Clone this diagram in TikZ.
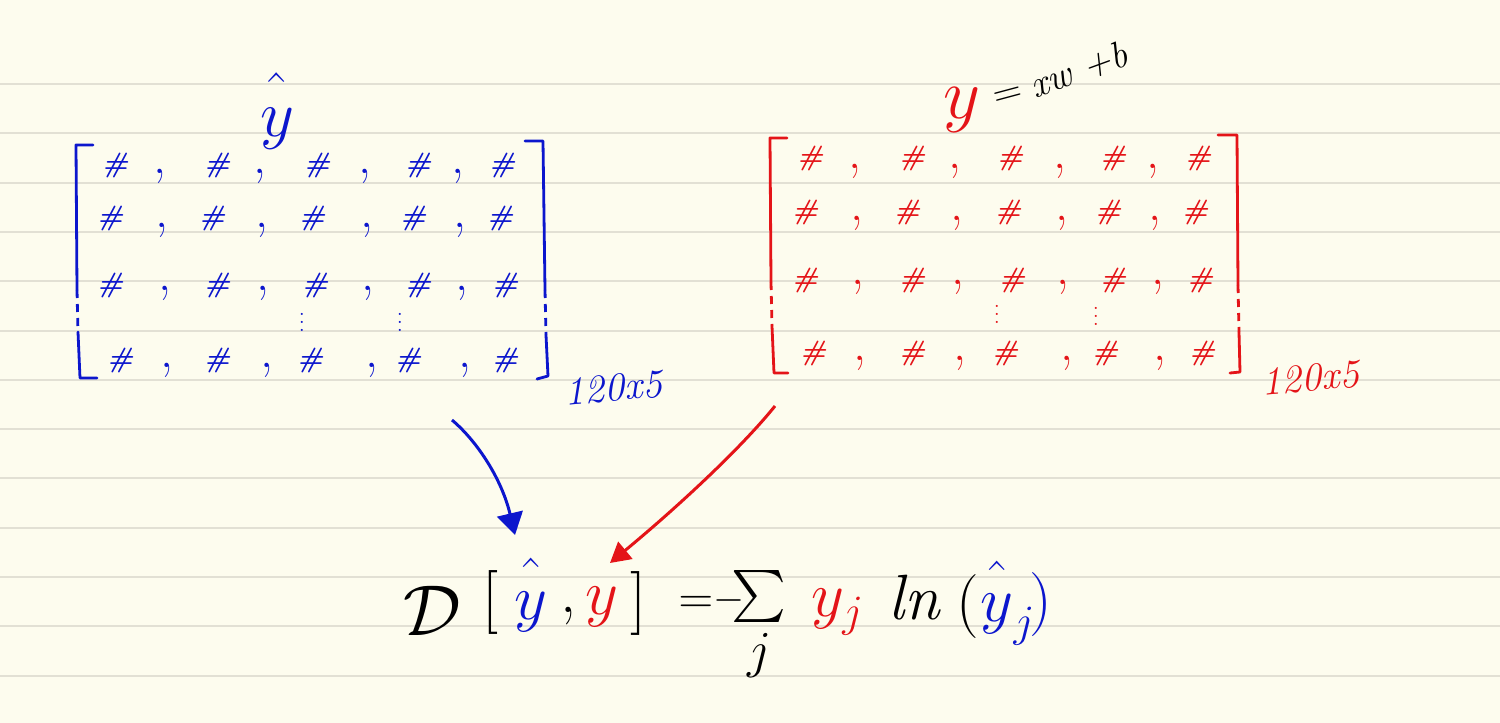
\RequirePackage{fix-cm}
\documentclass[tikz,border=0pt]{standalone}
\usetikzlibrary{arrows.meta}
\definecolor{bg}{RGB}{253,252,238}
\definecolor{rulecol}{RGB}{226,224,212}
\definecolor{inkblue}{RGB}{12,22,205}
\definecolor{inkred}{RGB}{228,20,24}
\begin{document}
\begin{tikzpicture}[x=0.5pt,y=-0.5pt,
  hash/.style={inner sep=0pt, font=\fontsize{14}{16}\selectfont\bfseries\itshape},
  cma/.style={inner sep=0pt, font=\fontsize{26}{30}\selectfont},
  vdot/.style={inner sep=0pt, font=\fontsize{10}{12}\selectfont},
  brk/.style={line width=1.4pt, line cap=round, line join=round},
  brkdash/.style={line width=1.4pt, dash pattern=on 4pt off 3pt},
  eq/.style={inner sep=0pt, font=\fontsize{32}{38}\selectfont},
  dims/.style={inner sep=0pt, font=\fontsize{20}{24}\selectfont\itshape, rotate=5},
  arr/.style={line width=1.5pt}
]
\fill[bg] (0,0) rectangle (1500,723);
\useasboundingbox (0,0) rectangle (1500,723);
\foreach \k in {0,...,12}
  \draw[rulecol, line width=1pt] (0,{84+49.3*\k}) -- (1500,{84+49.3*\k});

% ---------------- blue matrix ----------------
\node[eq, inkblue, font=\fontsize{33}{38}\selectfont] (bhat) at (277,111) {$\hat{\vphantom{b}y}$};
\draw[brk, inkblue] (93,145) -- (76,145) -- (77,290);
\draw[brkdash, inkblue] (77,290) -- (78,332);
\draw[brk, inkblue] (78,332) -- (80,378) -- (97,378);
\draw[brk, inkblue] (525,141) -- (543,141) -- (545,290);
\draw[brkdash, inkblue] (545,290) -- (546,335);
\draw[brk, inkblue] (546,335) -- (548,376) -- (537,379);
\foreach \x/\y [count=\i] in {115/165,217/165,317/165,418/165,502/165,
  110/218,212/218,312/218,413/218,500/218,
  110/285,217/285,315/285,418/285,505/285,
  120/360,217/360,310/360,408/360,505/360}
  \node[hash, inkblue] (bh\i) at (\x,\y) {\#};
\foreach \x/\y [count=\i] in {160/176,260/176,365/176,458/176,
  162/230,262/230,367/230,460/230,
  165/293,263/293,368/293,462/293,
  167/370,267/370,372/370,465/370}
  \node[cma, inkblue] (bc\i) at (\x,\y) {,};
\node[vdot, inkblue] (bv1) at (302,316) {$\vdots$};
\node[vdot, inkblue] (bv2) at (400,316) {$\vdots$};
\node[dims, inkblue] (bdim) at (613,388) {120x5};

% ---------------- red matrix ----------------
\node[eq, inkred, font=\fontsize{36}{40}\selectfont] (ry) at (962,110) {$y$};
\node[eq, font=\fontsize{20}{24}\selectfont, rotate=15] (req) at (1009,97) {$=$};
\node[inner sep=0pt, font=\fontsize{19}{23}\selectfont\itshape, rotate=20] (rxw) at (1079,70) {xw +b};
\draw[brk, inkred] (787,138) -- (770,138) -- (771,282);
\draw[brkdash, inkred] (771,282) -- (772,326);
\draw[brk, inkred] (772,326) -- (774,373) -- (788,373);
\draw[brk, inkred] (1218,135) -- (1237,135) -- (1238,285);
\draw[brkdash, inkred] (1238,285) -- (1239,332);
\draw[brk, inkred] (1239,332) -- (1240,372) -- (1230,373);
\foreach \x/\y [count=\i] in {810/158,912/158,1010/158,1113/158,1198/158,
  805/212,907/212,1008/212,1108/212,1195/212,
  805/280,912/280,1012/280,1113/280,1200/280,
  813/353,912/353,1005/353,1105/353,1202/353}
  \node[hash, inkred] (rh\i) at (\x,\y) {\#};
\foreach \x/\y [count=\i] in {855/171,955/171,1060/171,1153/171,
  857/223,957/223,1062/223,1155/223,
  858/287,958/287,1063/287,1158/287,
  860/363,960/363,1067/363,1160/363}
  \node[cma, inkred] (rc\i) at (\x,\y) {,};
\node[vdot, inkred] (rv1) at (997,308) {$\vdots$};
\node[vdot, inkred] (rv2) at (1096,310) {$\vdots$};
\node[dims, inkred] (rdim) at (1310,378) {120x5};

% ---------------- equation ----------------
\node[eq, font=\fontsize{36}{40}\selectfont] (eD) at (432,611) {$\mathcal{D}$};
\node[eq] (eL) at (490,602) {$[$};
\node[eq, inkblue] (eyhat) at (531,595) {$\hat{\vphantom{b}y}$};
\node[eq] (ecomma) at (568,616) {,};
\node[eq, inkred] (ey) at (602,607) {$y$};
\node[eq] (eR) at (638,603) {$]$};
\node[eq, font=\fontsize{24}{28}\selectfont] (eeq) at (696,605) {$=$};
\node[eq, font=\fontsize{20}{24}\selectfont] (eminus) at (729,600) {$-$};
\node[eq, font=\fontsize{26}{30}\selectfont] (esum) at (759,625) {$\mathop{\scalebox{2.6}{$\sum$}}\limits_{\textstyle j}$};
\node[eq, inkred] (eyj) at (838,612) {$y_j$};
\node[eq, font=\fontsize{32}{38}\selectfont\itshape] (eln) at (914,598) {ln};
\node[eq] (eLp) at (968,606) {$($};
\node[eq, inkblue] (eyhatj) at (1008,603) {$\hat{\vphantom{b}y}_j$};
\node[eq, inkblue] (eRp) at (1041,604) {$)$};

% ---------------- arrows ----------------
\coordinate (bsrc) at (452,420);
\coordinate (btip) at (515,535);
\coordinate (rsrc) at (775,406);
\coordinate (rtip) at (610,563);
\draw[arr, inkblue, -{Triangle[length=11pt,width=13pt]}] (bsrc) .. controls (478,442) and (502,480) .. (btip);
\draw[arr, inkred, -{Triangle[length=10pt,width=11pt]}] (rsrc) .. controls (742,447) and (680,505) .. (rtip);
\end{tikzpicture}
\end{document}
